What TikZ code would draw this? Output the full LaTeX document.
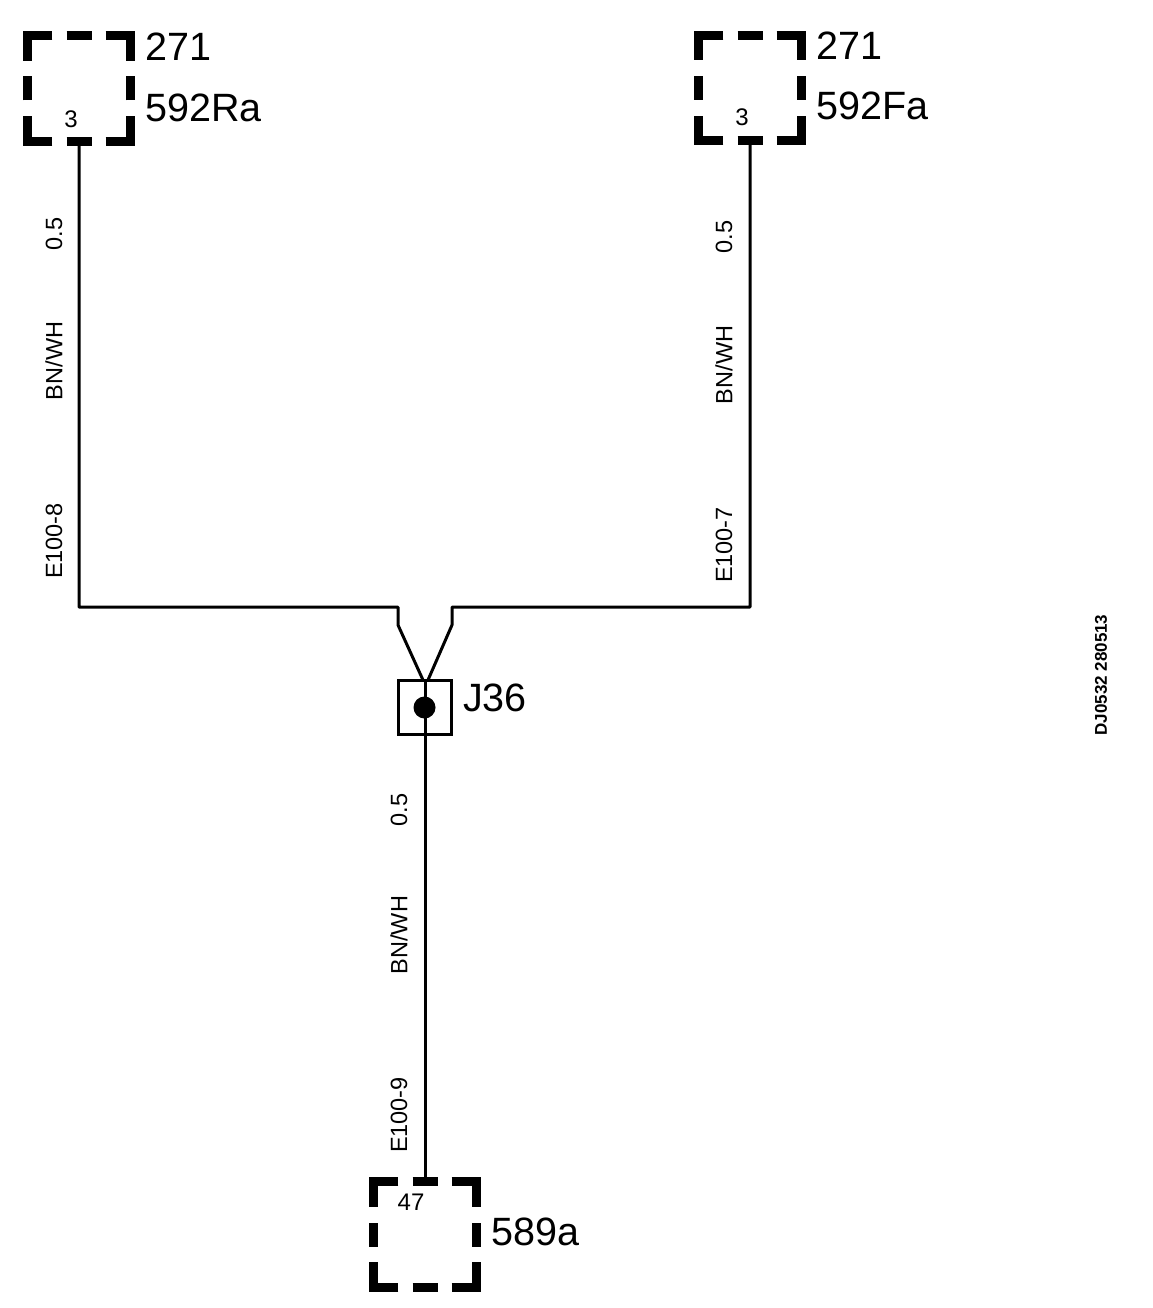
\documentclass[tikz,border=0pt]{standalone}
\usepackage{fontspec}
\setmainfont{Liberation Sans}
\newcommand{\dbox}[3]{%
  \node[boxbase] (#1) at (#2,#3) {};
  \draw[boxdash] ([xshift=25pt]#1.north west) -- (#1.north west) -- ([yshift=-25pt]#1.north west);
  \draw[boxdash] ([xshift=-25pt]#1.north east) -- (#1.north east) -- ([yshift=-25pt]#1.north east);
  \draw[boxdash] ([xshift=25pt]#1.south west) -- (#1.south west) -- ([yshift=25pt]#1.south west);
  \draw[boxdash] ([xshift=-25pt]#1.south east) -- (#1.south east) -- ([yshift=25pt]#1.south east);
  \draw[boxdash] ([xshift=-12.5pt]#1.north) -- ([xshift=12.5pt]#1.north);
  \draw[boxdash] ([xshift=-12.5pt]#1.south) -- ([xshift=12.5pt]#1.south);
  \draw[boxdash] ([yshift=-12pt]#1.west) -- ([yshift=12pt]#1.west);
  \draw[boxdash] ([yshift=-12pt]#1.east) -- ([yshift=12pt]#1.east);
}
\tikzset{
  boxbase/.style={inner sep=0pt,minimum width=103pt,minimum height=105pt},
  boxdash/.style={line width=9pt,line cap=butt,line join=miter,black},
  wire/.style={line width=3pt,black,line join=round},
  big/.style={inner sep=0pt,anchor=west,font=\fontsize{39.5}{39.5}\selectfont},
  pin/.style={inner sep=0pt,font=\fontsize{24}{24}\selectfont},
  wlabel/.style={inner sep=0pt,rotate=90,font=\fontsize{23.5}{23.5}\selectfont},
}
\begin{document}
\begin{tikzpicture}[x=1pt,y=-1pt]
\useasboundingbox (0,0) rectangle (1152,1308);
\fill[white] (0,0) rectangle (1152,1308);
\dbox{rbox}{79}{88.5}
\dbox{fbox}{750}{88}
\dbox{bbox}{425}{1234.5}
\node[big] (t1) at (145,47) {271};
\node[big] (t2) at (145,108) {592Ra};
\node[big] (t3) at (816,46) {271};
\node[big] (t4) at (816,106) {592Fa};
\node[big] (t5) at (491,1232) {589a};
\node[big] (t6) at (463,698) {J36};
\node[pin] (p1) at (71,119) {3};
\node[pin] (p2) at (742,117) {3};
\node[pin] (p3) at (411,1202) {47};
\node[wlabel] (l1) at (54,234) {0.5};
\node[wlabel] (l2) at (54,361) {BN/WH};
\node[wlabel] (l3) at (54,541) {E100-8};
\node[wlabel] (l4) at (724,237) {0.5};
\node[wlabel] (l5) at (724,365) {BN/WH};
\node[wlabel] (l6) at (724,545) {E100-7};
\node[wlabel] (l7) at (399,810) {0.5};
\node[wlabel] (l8) at (399,935) {BN/WH};
\node[wlabel] (l9) at (399,1115) {E100-9};
\node[inner sep=0pt,rotate=90,font=\fontsize{17}{17}\selectfont\bfseries] (code) at (1101,675) {DJ0532 280513};
\node[draw,line width=3pt,inner sep=0pt,minimum width=53pt,minimum height=54pt] (j) at (424.5,707.5) {};
\fill[black] (j.center) circle (11pt);
\coordinate (a1) at (79,607);
\coordinate (a2) at (398,607);
\coordinate (a3) at (398,625);
\coordinate (b1) at (750,607);
\coordinate (b2) at (452,607);
\coordinate (b3) at (452,625);
\coordinate (ja) at (423,680);
\coordinate (jb) at (428,680);
\coordinate (jt) at (425,680);
\coordinate (bt) at (425,1181);
\draw[wire] (rbox.south) -- (a1) -- (a2) -- (a3) -- (ja);
\draw[wire] (fbox.south) -- (b1) -- (b2) -- (b3) -- (jb);
\draw[wire] (jt) -- (bt);
\end{tikzpicture}
\end{document}
